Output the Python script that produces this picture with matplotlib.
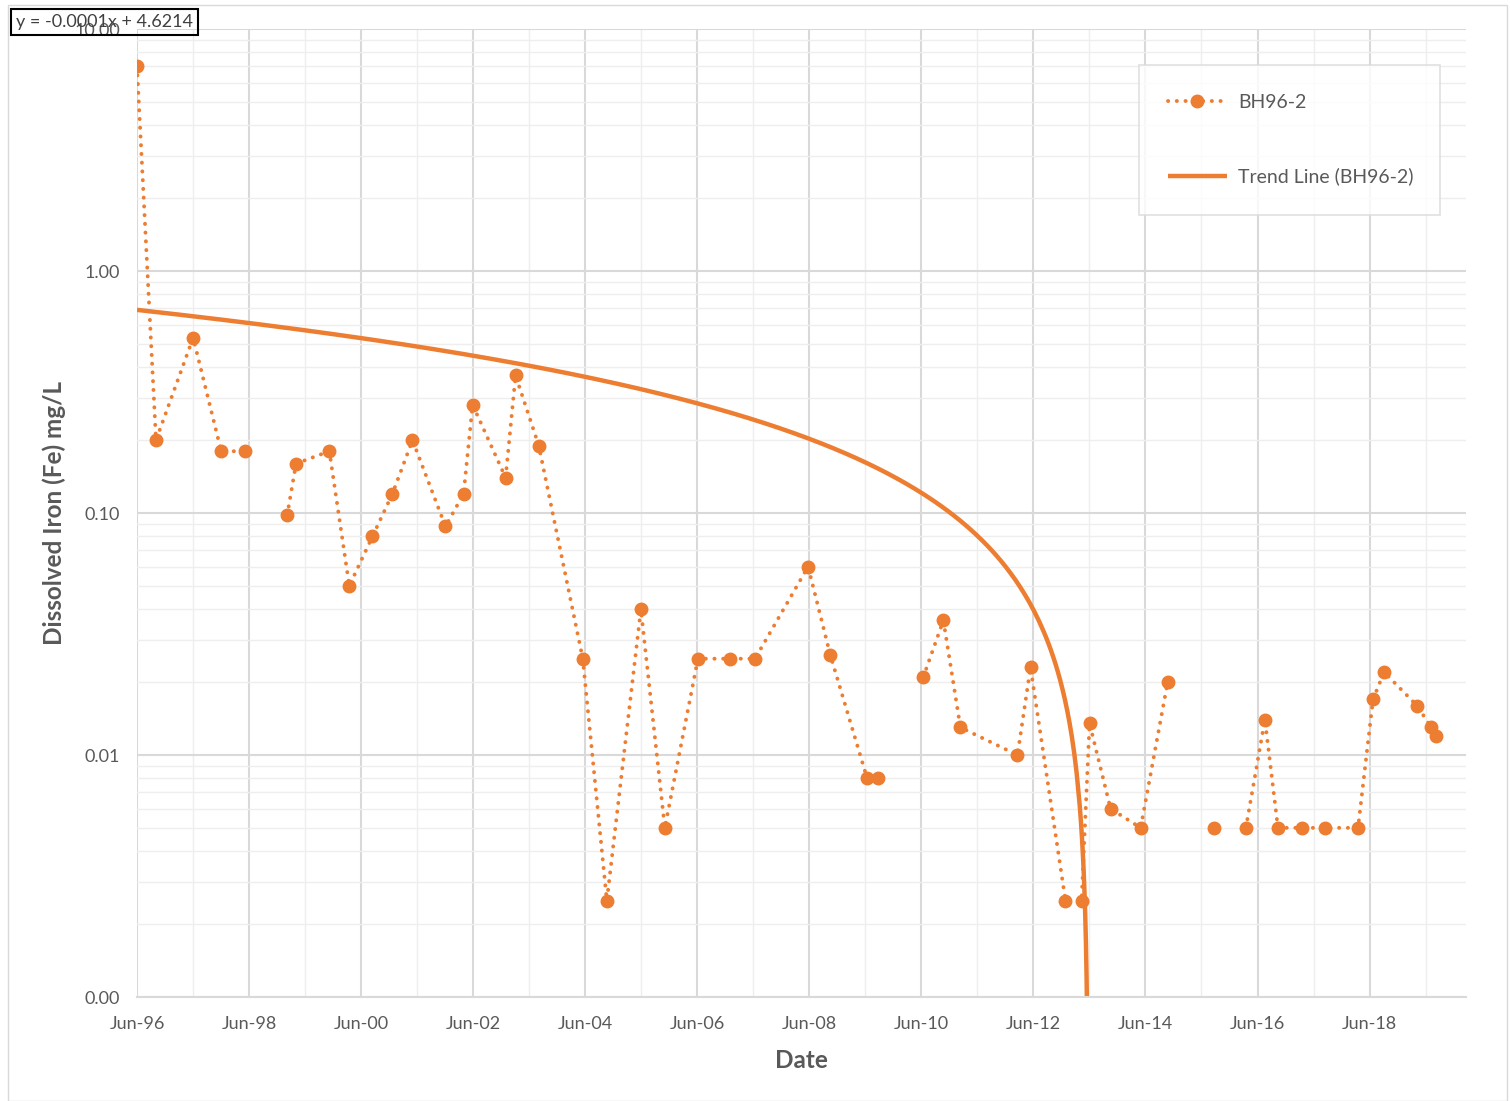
import numpy as np
import pandas as pd
import matplotlib
matplotlib.use("Agg")
import matplotlib.pyplot as plt
import matplotlib.dates as mdates
from matplotlib.ticker import FixedLocator, FuncFormatter, LogLocator, NullFormatter
from matplotlib.patches import Rectangle

plt.rcParams['font.family'] = ['Lato', 'DejaVu Sans']

# ---- data (NaN = gap in series) ----
dates = ["1996-06-01", "1996-10-03", "1997-06-02", "1997-12-02", "1998-05-07",
         "1998-09-01",
         "1999-02-05", "1999-04-04", "1999-11-07", "2000-03-16", "2000-08-14",
         "2000-12-22", "2001-05-02", "2001-12-03", "2002-03-31", "2002-05-29",
         "2002-12-30", "2003-03-05", "2003-08-03", "2004-05-16", "2004-10-20",
         "2005-05-30", "2005-11-02", "2006-06-06", "2007-01-01", "2007-06-13",
         "2008-05-24", "2008-10-15", "2009-06-13", "2009-08-24",
         "2010-01-01",
         "2010-06-14", "2010-10-23", "2011-02-11", "2012-02-18", "2012-05-13",
         "2012-12-27", "2013-04-11", "2013-06-02", "2013-10-17", "2014-05-01",
         "2014-10-24",
         "2015-03-01",
         "2015-08-21",
         "2015-12-01",
         "2016-03-17", "2016-07-19", "2016-10-12", "2017-03-17", "2017-08-15",
         "2018-03-18", "2018-06-24", "2018-09-04", "2019-04-07", "2019-07-08",
         "2019-08-10"]
iron = [7.0, 0.20, 0.53, 0.18, 0.18,
        np.nan,
        0.098, 0.16, 0.18, 0.05, 0.08,
        0.12, 0.20, 0.088, 0.12, 0.28,
        0.14, 0.37, 0.19, 0.025, 0.0025,
        0.04, 0.005, 0.025, 0.025, 0.025,
        0.06, 0.026, 0.008, 0.008,
        np.nan,
        0.021, 0.036, 0.013, 0.010, 0.023,
        0.0025, 0.0025, 0.0135, 0.006, 0.005,
        0.020,
        np.nan,
        0.005,
        np.nan,
        0.005, 0.014, 0.005, 0.005, 0.005,
        0.005, 0.017, 0.022, 0.016, 0.013,
        0.012]

# Excel linear trend (x = Excel date serial)
trend_slope = -0.0001114
trend_intercept = 4.614
equation_text = "y = -0.0001x + 4.6214"

series_label = "BH96-2"
trend_label = "Trend Line (BH96-2)"
x_label = "Date"
y_label = "Dissolved Iron (Fe) mg/L"
y_ticks = [0.001, 0.01, 0.1, 1.0, 10.0]
y_ticklabels = ["0.00", "0.01", "0.10", "1.00", "10.00"]

orange = "#ED7D31"
text_grey = "#595959"

dt = pd.to_datetime(dates)
vals = np.array(iron, dtype=float)

fig = plt.figure(figsize=(15.10, 11.01), dpi=100)
ax = fig.add_axes([137/1510, 1-997/1101, (1466-137)/1510, (997-29)/1101])

# chart area border
fig.patches.append(Rectangle((8/1510, 0), 1-8/1510-0.002, 1-5/1101, transform=fig.transFigure,
                             fill=False, edgecolor="#D9D9D9", linewidth=1.0, zorder=0))

ax.set_yscale('log')
ax.set_ylim(0.001, 10)
xmin = pd.Timestamp("1996-06-01")
xmax = pd.Timestamp("2020-02-20")
ax.set_xlim(xmin, xmax)

# grid
major_dates = pd.to_datetime([f"{y}-06-01" for y in range(1996, 2020, 2)])
minor_dates = pd.to_datetime([f"{y}-06-01" for y in range(1997, 2020, 2)])
ax.xaxis.set_major_locator(FixedLocator(mdates.date2num(major_dates)))
ax.xaxis.set_minor_locator(FixedLocator(mdates.date2num(minor_dates)))
ax.xaxis.set_major_formatter(mdates.DateFormatter("%b-%y"))
ax.yaxis.set_major_locator(FixedLocator(y_ticks))
ax.yaxis.set_major_formatter(FuncFormatter(lambda v, p: y_ticklabels[y_ticks.index(min(y_ticks, key=lambda t: abs(np.log10(t) - np.log10(v))))]))
ax.yaxis.set_minor_locator(LogLocator(base=10, subs=np.arange(2, 10)))
ax.yaxis.set_minor_formatter(NullFormatter())

ax.grid(which='major', color="#D9D9D9", linewidth=1.5, zorder=0)
ax.grid(which='minor', color="#EEEEEE", linewidth=1.0, zorder=0)
ax.set_axisbelow(True)

for s in ['top', 'right', 'left']:
    ax.spines[s].set_visible(False)
ax.spines['bottom'].set_color("#D9D9D9")
ax.spines['bottom'].set_linewidth(1.5)
ax.tick_params(which='both', length=0)
ax.tick_params(axis='x', labelsize=13, labelcolor=text_grey, pad=14)
ax.tick_params(axis='y', labelsize=13, labelcolor=text_grey, pad=12)

# data series
ax.plot(dt, vals, linestyle=(0, (0.05, 2.2)), dash_capstyle='round', color=orange,
        linewidth=2.8, marker='o', markersize=9, label=series_label, zorder=3)

# trend line
excel_epoch = pd.Timestamp("1899-12-30")
serial0 = (dt[0] - excel_epoch).days
serial_zero = -trend_intercept / trend_slope
serials = np.concatenate([np.linspace(serial0, serial_zero - 60, 400),
                          np.linspace(serial_zero - 60, serial_zero - 0.01, 400)])
trend_vals = trend_slope * serials + trend_intercept
trend_dates = excel_epoch + pd.to_timedelta(serials, unit='D')
ax.plot(trend_dates, trend_vals, color=orange, linewidth=3.2, label=trend_label, zorder=2,
        solid_capstyle='butt')

ax.set_xlabel(x_label, fontsize=17.5, fontweight='bold', color=text_grey, labelpad=12)
ax.set_ylabel(y_label, fontsize=17.5, fontweight='bold', color=text_grey, labelpad=6)

leg = ax.legend(loc='upper left',
                bbox_to_anchor=((1139-137)/1329, (997-213)/968, (1440-1139)/1329, (213-65)/968),
                mode='expand',
                fontsize=14, labelspacing=2.9, handlelength=3.0, handletextpad=0.6,
                borderpad=1.5, borderaxespad=0, fancybox=False, frameon=True,
                numpoints=1)
leg.get_frame().set_edgecolor("#D9D9D9")
leg.get_frame().set_linewidth(1.2)
for t in leg.get_texts():
    t.set_color(text_grey)

fig.text(16/1510, 1-22/1101, equation_text, fontsize=13, color="#404040", va='center', ha='left',
         bbox=dict(boxstyle='square,pad=0.3', facecolor='none', edgecolor='black', linewidth=1.5),
         zorder=10)

fig.savefig("out.png", dpi=100)
